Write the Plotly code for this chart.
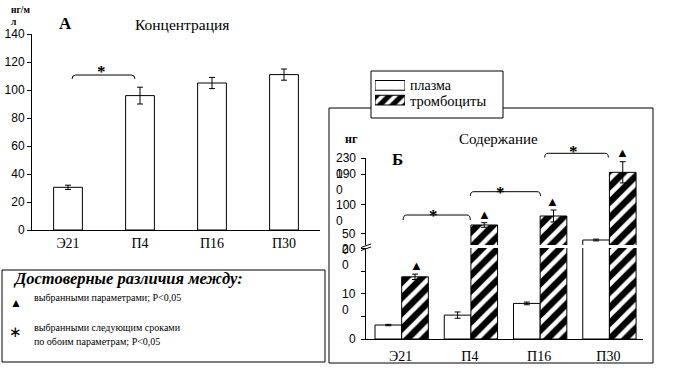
import plotly.graph_objects as go

W, H = 685, 373

# ---------------- data ----------------
categories = ["Э21", "П4", "П16", "П30"]

# panel A: concentration (нг/мл)
conc_values = [30.5, 96, 105, 111]
conc_errors = [1.5, 6, 4, 4]
conc_ticks = [0, 20, 40, 60, 80, 100, 120, 140]

# panel Б: content (нг)
plasma_values = [31, 53, 79, 396]
plasma_errors = [1.5, 7, 3, 15]
platelet_values = [138, 655, 810, 1563]
platelet_errors = [6, 40, 103, 183]

lower_range = [0, 202]
upper_range = [310, 1810]
lower_tick_vals = [0, 50, 100, 150, 200]
lower_label_vals = [0, 100, 200]
lower_label_text = ["0", "10<br>0", "20<br>0"]
upper_tick_vals = [500, 1000, 1534, 1810]
upper_label_text = ["50<br>0", "100<br>0", "190<br>0", "230<br>0"]

series_names = ["плазма", "тромбоциты"]

SERIF = "Liberation Serif, Times New Roman, DejaVu Serif, serif"
SANS = "Liberation Sans, Arial, DejaVu Sans, sans-serif"


def fx(p):
    return p / W


def fy(p):
    return 1 - p / H


def up_dom(v):
    return (v - upper_range[0]) / (upper_range[1] - upper_range[0])


idx = list(range(len(categories)))
err_style = dict(type="data", color="black", thickness=1, width=3, visible=True)
pattern = dict(shape="/", bgcolor="black", fgcolor="white", size=11, solidity=0.42, fillmode="replace")

fig = go.Figure()

# Panel A bars
fig.add_trace(go.Bar(x=idx, y=conc_values, width=0.4, xaxis="x", yaxis="y",
                     marker=dict(color="white", line=dict(color="black", width=1)),
                     error_y=dict(array=conc_errors, **err_style), showlegend=False))

# Panel Б bars, lower and upper part of the broken axis
for xa, ya in (("x2", "y2"), ("x3", "y3")):
    fig.add_trace(go.Bar(x=idx, y=plasma_values, width=0.385, offset=-0.37, xaxis=xa, yaxis=ya,
                         name=series_names[0],
                         marker=dict(color="white", line=dict(color="black", width=1)),
                         error_y=dict(array=plasma_errors, **err_style), showlegend=False))
    fig.add_trace(go.Bar(x=idx, y=platelet_values, width=0.385, offset=0.015, xaxis=xa, yaxis=ya,
                         name=series_names[1],
                         marker=dict(color="black", pattern=pattern, line=dict(color="black", width=1)),
                         error_y=dict(array=platelet_errors, **err_style), showlegend=False))

# legend swatches
fig.add_trace(go.Bar(x=[1], y=[1], orientation="h", width=0.66, xaxis="x4", yaxis="y4",
                     marker=dict(color="white", line=dict(color="black", width=1)), showlegend=False))
fig.add_trace(go.Bar(x=[1], y=[0], orientation="h", width=0.66, xaxis="x4", yaxis="y4",
                     marker=dict(color="black", pattern=dict(pattern, size=9), line=dict(color="black", width=1)),
                     showlegend=False))

axis_common = dict(showgrid=False, zeroline=False, showline=True, linecolor="black", linewidth=1,
                   automargin=False)

fig.update_layout(
    template="none",
    width=W, height=H, margin=dict(l=0, r=0, t=0, b=0, pad=0, autoexpand=False),
    paper_bgcolor="white", plot_bgcolor="rgba(0,0,0,0)",
    barmode="overlay", showlegend=False,
    xaxis=dict(domain=[fx(32), fx(320)], range=[-0.5, 3.5], tickvals=idx, ticktext=categories,
               ticks="", tickfont=dict(family=SERIF, size=14, color="black"), anchor="y", **axis_common),
    yaxis=dict(domain=[fy(230), fy(34)], range=[0, 140], tickvals=conc_ticks, ticks="outside",
               ticklen=4, tickcolor="black", tickfont=dict(family=SANS, size=12, color="black"),
               anchor="x", **axis_common),
    xaxis2=dict(domain=[fx(366), fx(643)], range=[-0.5, 3.5], tickvals=idx, ticktext=categories,
                ticks="", ticklabelstandoff=4, tickfont=dict(family=SERIF, size=14, color="black"),
                anchor="y2", **axis_common),
    yaxis2=dict(domain=[fy(339), fy(248)], range=lower_range, tickvals=lower_tick_vals, ticks="outside",
                ticklen=4, tickcolor="black", showticklabels=False, anchor="x2", **axis_common),
    xaxis3=dict(domain=[fx(366), fx(643)], range=[-0.5, 3.5], matches="x2", visible=False, anchor="y3",
                automargin=False),
    yaxis3=dict(domain=[fy(245), fy(158)], range=upper_range, tickvals=upper_tick_vals, ticks="outside",
                ticklen=4, tickcolor="black", showticklabels=False, anchor="x3", **axis_common),
    xaxis4=dict(domain=[fx(375), fx(405)], range=[0, 1], visible=False, anchor="y4", automargin=False),
    yaxis4=dict(domain=[fy(107.5), fy(78)], range=[-0.5, 1.5], visible=False, anchor="x4", automargin=False),
)

shapes = []
# right panel frame and legend frame
shapes.append(dict(type="rect", xref="paper", yref="paper", x0=fx(329), x1=fx(653), y0=fy(363), y1=fy(108),
                   line=dict(color="black", width=1), fillcolor="rgba(0,0,0,0)", layer="below"))
shapes.append(dict(type="rect", xref="paper", yref="paper", x0=fx(371), x1=fx(503), y0=fy(118), y1=fy(71),
                   line=dict(color="black", width=1), fillcolor="white", layer="below"))
# bottom-left note frame
shapes.append(dict(type="rect", xref="paper", yref="paper", x0=fx(2), x1=fx(325), y0=fy(362), y1=fy(270),
                   line=dict(color="black", width=1), fillcolor="rgba(0,0,0,0)", layer="below"))
# axis break marks
for dy in (0, 3):
    shapes.append(dict(type="path", xref="paper", yref="paper",
                       path=f"M {fx(361)},{fy(247.5 + dy)} L {fx(371)},{fy(244 + dy)}",
                       line=dict(color="black", width=1)))


def bracket(x0, x1, yline, yend, xref, yref):
    d = 0.05
    return dict(type="path", xref=xref, yref=yref,
                path=(f"M {x0},{yend} Q {x0},{yline} {x0 + d},{yline} L {x1 - d},{yline} "
                      f"Q {x1},{yline} {x1},{yend}"),
                line=dict(color="black", width=1))


shapes.append(bracket(0.056, 0.93, 110.7, 107.9, "x", "y"))
shapes.append(bracket(0.036, 1.007, up_dom(827), up_dom(741), "x3", "y3 domain"))
shapes.append(bracket(1.007, 2.02, up_dom(1229), up_dom(1155), "x3", "y3 domain"))
shapes.append(bracket(2.08, 3.0, up_dom(1891), up_dom(1819), "x3", "y3 domain"))
fig.update_layout(shapes=shapes)

ann = []


def txt(text, x, y, size, family=SERIF, xanchor="center", yanchor="middle", xref="paper", yref="paper",
        align="center", **kw):
    ann.append(dict(text=text, x=x, y=y, xref=xref, yref=yref, xanchor=xanchor, yanchor=yanchor,
                    showarrow=False, align=align, font=dict(family=family, size=size, color="black"), **kw))


# axis value labels of broken axis
for v, t in zip(lower_label_vals, lower_label_text):
    txt(t, 0, v, 12, SANS, xanchor="right", yanchor="top", xref="x2 domain", yref="y2",
        align="left", xshift=-8, yshift=9)
for v, t in zip(upper_tick_vals, upper_label_text):
    txt(t, 0, up_dom(v), 12, SANS, xanchor="right", yanchor="top", xref="x3 domain", yref="y3 domain",
        align="left", xshift=-8, yshift=9)

# titles and units
txt("<b>нг/м<br>л</b>", fx(9), fy(3), 9.5, xanchor="left", yanchor="top", align="left")
txt("<b>A</b>", fx(65.5), fy(23), 17)
txt("Концентрация", fx(182), fy(24), 15.5)
txt("<b>нг</b>", fx(351.5), fy(139), 12)
txt("Содержание", fx(498), fy(139), 15)
txt("<b>Б</b>", fx(397.5), fy(159), 17)

# stars
txt("<b>*</b>", 0.47, 115.7, 17, xref="x", yref="y", yshift=-3)
txt("<b>*</b>", 0.47, up_dom(870), 17, xref="x3", yref="y3 domain", yshift=-3)
txt("<b>*</b>", 1.44, up_dom(1275), 17, xref="x3", yref="y3 domain", yshift=-3)
txt("<b>*</b>", 2.49, up_dom(1972), 17, xref="x3", yref="y3 domain", yshift=-3)

# triangles
txt("▲", 0.23, 164, 13, SANS, xref="x2", yref="y2")
txt("▲", 1.21, up_dom(844), 13, SANS, xref="x3", yref="y3 domain")
txt("▲", 2.2, up_dom(1056), 13, SANS, xref="x3", yref="y3 domain")
txt("▲", 3.21, up_dom(1901), 13, SANS, xref="x3", yref="y3 domain")

# legend labels
txt(series_names[0], fx(408), fy(85.5), 14, xanchor="left")
txt(series_names[1], fx(408), fy(100.5), 14.5, xanchor="left")

# note box
txt("<b><i>Достоверные различия между:</i></b>", fx(11), fy(278), 16.5, xanchor="left")
txt("▲", fx(15.5), fy(303), 12, SANS)
txt("выбранными параметрами; P<0,05", fx(32), fy(297), 10, xanchor="left")
txt("∗", fx(15.5), fy(331), 15, SANS)
txt("выбранными следующим сроками", fx(32), fy(327), 10, xanchor="left")
txt("по обоим параметрам; P<0,05", fx(32), fy(341), 10, xanchor="left")

fig.update_layout(annotations=ann)

fig.write_html("out.html", config={"displayModeBar": False},
               post_script="document.body.style.margin='0px';document.body.style.overflow='hidden';")
